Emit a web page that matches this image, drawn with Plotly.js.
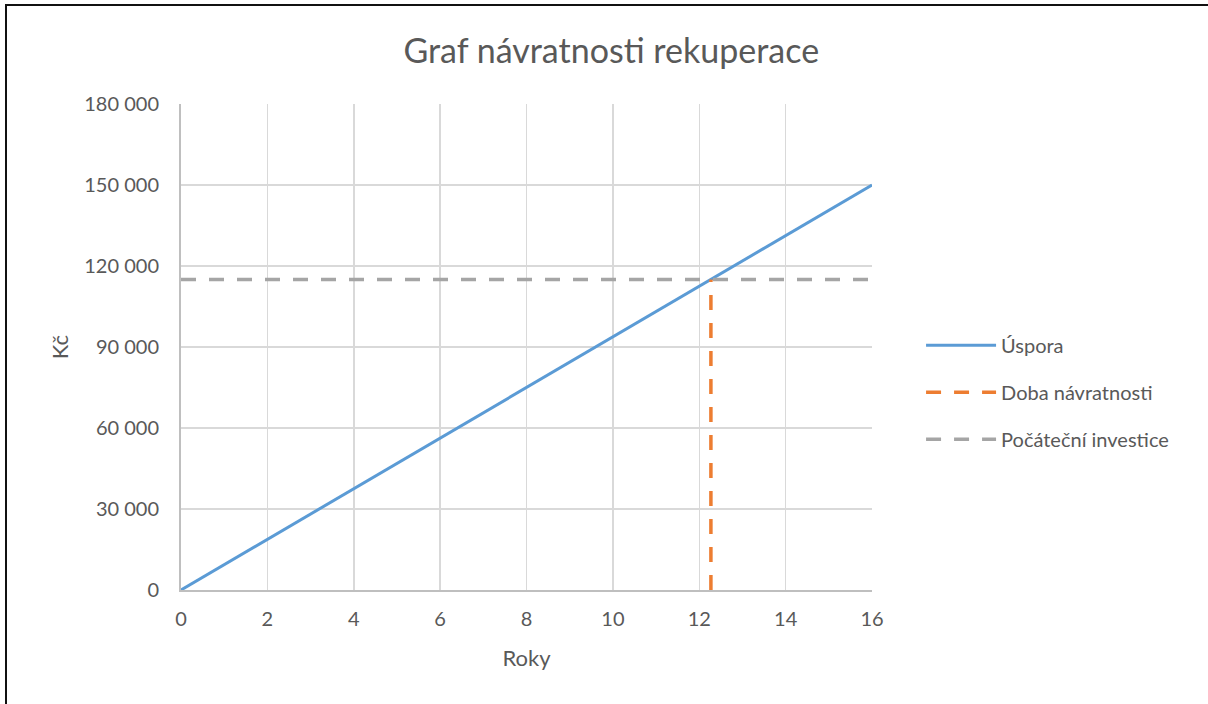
<!DOCTYPE html>
<html>
<head>
<meta charset="utf-8">
<script src="https://cdn.plot.ly/plotly-3.0.1.min.js"></script>
<style>
  html, body { margin: 0; padding: 0; background: #fff; }
  #wrap { position: relative; width: 1208px; height: 704px; overflow: hidden; }
  #chart { width: 1208px; height: 704px; }
  #frame { position: absolute; left: 5px; top: 4px; width: 1300px; height: 800px;
           border-top: 2px solid #111; border-left: 2px solid #111; pointer-events: none; }
</style>
</head>
<body>
<div id="wrap">
  <div id="chart"></div>
  <div id="frame"></div>
</div>
<script>
// Data
const years = [0, 1, 2, 3, 4, 5, 6, 7, 8, 9, 10, 11, 12, 13, 14, 15, 16];
const savings = [0, 9375, 18750, 28125, 37500, 46875, 56250, 65625, 75000,
                 84375, 93750, 103125, 112500, 121875, 131250, 140625, 150000];
const paybackX = [12.27, 12.27];
const paybackY = [0, 115000];
const investX = [0, 16];
const investY = [115000, 115000];
const seriesNames = ["Úspora", "Doba návratnosti", "Počáteční investice"];
const xTicks = [0, 2, 4, 6, 8, 10, 12, 14, 16];
const yTicks = [0, 30000, 60000, 90000, 120000, 150000, 180000];

const font = "Lato, 'Open Sans', sans-serif";
const textColor = "#595959";

const traces = [
  { x: years, y: savings, name: seriesNames[0], mode: "lines", legendgroup: "a",
    line: { color: "#5b9bd5", width: 3 } },
  { x: paybackX, y: paybackY, name: seriesNames[1], mode: "lines", legendgroup: "b",
    line: { color: "#ed7d31", width: 3.5, dash: "15px,13px" } },
  { x: investX, y: investY, name: seriesNames[2], mode: "lines", legendgroup: "c",
    line: { color: "#a5a5a5", width: 3.5, dash: "15px,13px" } }
];

const layout = {
  width: 1208, height: 704,
  paper_bgcolor: "#fff", plot_bgcolor: "#fff",
  separators: ", ",
  margin: { l: 181, r: 336, t: 104, b: 114 },
  font: { family: font, color: textColor, size: 20 },
  title: { text: "Graf návratnosti rekuperace", x: 0.506, xanchor: "center",
           y: 0.928, yanchor: "middle", font: { family: font, size: 34, color: textColor } },
  xaxis: {
    range: [0, 16], tickvals: xTicks, ticks: "", showline: true, linecolor: "#bfbfbf", linewidth: 2,
    showgrid: true, gridcolor: "#d9d9d9", gridwidth: 1.5, zeroline: false,
    tickfont: { size: 20, color: textColor }, ticklabelstandoff: 10,
    title: { text: "Roky", font: { size: 22, color: textColor }, standoff: 22 }
  },
  yaxis: {
    range: [0, 180000], tickvals: yTicks, tickformat: ",.0f", ticks: "", showline: true,
    linecolor: "#bfbfbf", linewidth: 2,
    showgrid: true, gridcolor: "#d9d9d9", gridwidth: 1.5, zeroline: false,
    tickfont: { size: 20, color: textColor }, ticklabelstandoff: 16,
    title: { text: "Kč", font: { size: 22, color: textColor }, standoff: 10 }
  },
  legend: { x: 1.071, xanchor: "left", y: 0.407, yanchor: "middle",
            font: { size: 20, color: textColor }, tracegroupgap: 18, itemwidth: 70,
            bgcolor: "rgba(0,0,0,0)" },
  showlegend: true
};

Plotly.newPlot("chart", traces, layout, { displayModeBar: false, staticPlot: true });
</script>
</body>
</html>
